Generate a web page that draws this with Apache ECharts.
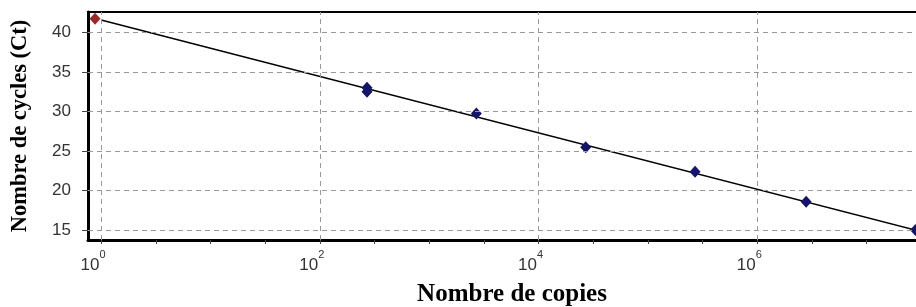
<!DOCTYPE html>
<html>
<head>
<meta charset="utf-8">
<script src="https://cdn.jsdelivr.net/npm/echarts@6/dist/echarts.min.js"></script>
<style>
  html, body { margin: 0; background: #fff; }
  #chart { width: 916px; height: 307px; }
</style>
</head>
<body>
<div id="chart"></div>
<script>
// valeurs (x en nombre de copies, y en Ct)
const sampleCopies = [0.88];
const sampleCt = [41.75];
const stdCopies = [270, 270, 2700, 27000, 270000, 2.8e6, 2.8e7];
const stdCt = [33.0, 32.5, 29.75, 25.5, 22.4, 18.6, 15.0];
// droite de régression (deux extrémités)
const fitCopies = [1, 3e7];
const fitCt = [41.6, 14.9];
// graduations
const xLabelExp = [0, 2, 4, 6];
const xTickExp = [0, 0.5, 1, 1.5, 2, 2.5, 3, 3.5, 4, 4.5, 5, 5.5, 6, 6.5, 7];
const yTicks = [15, 20, 25, 30, 35, 40];

const toPts = (xs, ys) => xs.map((c, i) => [Math.log10(c), ys[i]]);

const chart = echarts.init(document.getElementById('chart'));

const gridLines = [
  ...yTicks.map(v => ({ yAxis: v })),
  ...xLabelExp.map(v => ({ xAxis: v }))
];

const option = {
  animation: false,
  grid: {
    left: 88, right: -2, top: 12, bottom: 67,
    outerBoundsMode: 'none',
    containLabel: false,
    show: true, borderColor: '#000', borderWidth: 2, backgroundColor: '#fff'
  },
  xAxis: {
    type: 'value',
    min: -0.12,
    max: 7.47,
    name: 'Nombre de copies',
    nameLocation: 'middle',
    nameGap: 42,
    nameTextStyle: { fontFamily: 'Liberation Serif', fontWeight: 'bold', fontSize: 25, color: '#000', padding: [0, 0, 0, 18] },
    axisLine: { show: true, onZero: false, lineStyle: { color: '#000', width: 3 } },
    axisTick: { show: true, customValues: xTickExp, length: 4, lineStyle: { color: '#444' } },
    axisLabel: {
      customValues: xLabelExp,
      margin: 17,
      padding: [0, 16, 0, 0],
      formatter: v => '{b|10}{s|' + Math.round(v) + '}',
      rich: {
        b: { fontFamily: 'Liberation Sans', fontSize: 17, color: '#333', lineHeight: 17, verticalAlign: 'bottom' },
        s: { fontFamily: 'Liberation Sans', fontSize: 11, color: '#333', lineHeight: 10, padding: [0, 0, 14, 0], verticalAlign: 'bottom' }
      }
    },
    splitLine: { show: false }
  },
  yAxis: {
    type: 'value',
    min: 13.75,
    max: 42.6,
    name: 'Nombre de cycles (Ct)',
    nameLocation: 'middle',
    nameGap: 56,
    nameTextStyle: { fontFamily: 'Liberation Serif', fontWeight: 'bold', fontSize: 22.5, color: '#000' },
    axisLine: { show: true, onZero: false, lineStyle: { color: '#000', width: 3 } },
    axisTick: { show: true, customValues: yTicks, length: 6, lineStyle: { color: '#444' } },
    axisLabel: {
      customValues: yTicks,
      margin: 17,
      fontFamily: 'Liberation Sans', fontSize: 17, color: '#333'
    },
    splitLine: { show: false }
  },
  series: [
    {
      type: 'line',
      data: [],
      z: 1,
      silent: true,
      markLine: {
        symbol: 'none',
        silent: true,
        label: { show: false },
        lineStyle: { type: [5, 4], color: '#999', width: 1 },
        data: gridLines
      }
    },
    {
      type: 'line',
      data: toPts(fitCopies, fitCt),
      showSymbol: false,
      z: 2,
      lineStyle: { color: '#000', width: 1.5 }
    },
    {
      type: 'scatter',
      data: toPts(stdCopies, stdCt),
      symbol: 'diamond',
      symbolSize: [11, 12],
      z: 3,
      itemStyle: { color: '#14146b', opacity: 1 }
    },
    {
      type: 'scatter',
      data: toPts(sampleCopies, sampleCt),
      symbol: 'diamond',
      symbolSize: [11, 12],
      z: 3,
      itemStyle: { color: '#9a2a2a', opacity: 1 }
    }
  ]
};

chart.setOption(option);
</script>
</body>
</html>
